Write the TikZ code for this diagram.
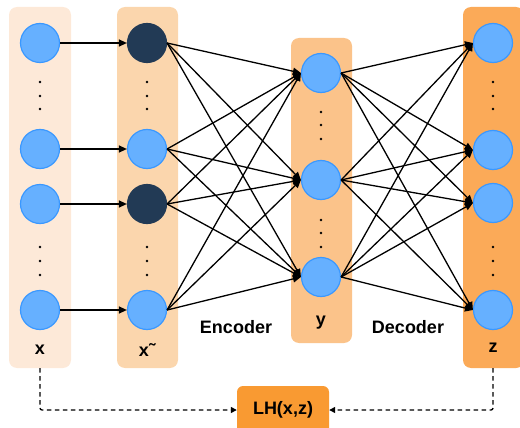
\documentclass[tikz,border=0pt]{standalone}
\usepackage{fontspec}
\setmainfont{Liberation Sans}
\usepackage{xcolor}
\usepackage{tikz}
\usetikzlibrary{arrows.meta,positioning}
\definecolor{InputPeach}{RGB}{253, 233, 216}
\definecolor{NoisyPeach}{RGB}{251, 214, 173}
\definecolor{CodeOrange}{RGB}{251, 195, 138}
\definecolor{OutputOrange}{RGB}{251, 170, 88}
\definecolor{LossOrange}{RGB}{249, 154, 50}
\definecolor{UnitBlue}{RGB}{102, 176, 255}
\definecolor{UnitEdge}{RGB}{58, 152, 255}
\definecolor{DropNavy}{RGB}{34, 58, 85}

\begin{document}
\begin{tikzpicture}[x=1pt, y=-1pt,
    unit/.style={circle, fill=UnitBlue, draw=UnitEdge, line width=1.2pt, minimum size=39pt, inner sep=0pt},
    dropped/.style={unit, fill=DropNavy, draw=DropNavy},
    lbl/.style={font=\fontsize{18}{20}\selectfont\bfseries},
    band/.style={rounded corners=8pt},
    link/.style={-{Triangle[length=8pt,width=7pt]}, line width=1.3pt},
    lossline/.style={dash pattern=on 4.5pt off 3.5pt, line width=1.3pt, -{Triangle[length=6pt,width=6pt]}, rounded corners=2pt}]
    \useasboundingbox (0,0) rectangle (520,428);
    \clip (0,0) rectangle (520,428);
    % layer bands
    \fill[InputPeach, band] (9,7) rectangle (71,368);
    \fill[NoisyPeach, band] (117,7) rectangle (178,368);
    \fill[CodeOrange, band] (291,38) rectangle (352,343);
    \fill[OutputOrange, band] (463,7) rectangle (524,368);
    % units
    \foreach \n/\yy in {1/43,2/149,3/204,4/310}
        \node[unit] (x\n) at (40,\yy) {};
    \foreach \n/\yy/\s in {1/43/dropped,2/149/unit,3/204/dropped,4/310/unit}
        \node[\s] (xt\n) at (147,\yy) {};
    \foreach \n/\yy in {1/73,2/180,3/277}
        \node[unit] (y\n) at (321,\yy) {};
    \foreach \n/\yy in {1/43,2/150,3/203,4/310}
        \node[unit] (z\n) at (493,\yy) {};
    % vertical dots
    \foreach \cx in {40,147,493}
        \foreach \dy in {82,96,109,247,261,275}
            \fill (\cx,\dy) circle (1.4pt);
    \foreach \dy in {112,125,139,220,233,247}
        \fill (321,\dy) circle (1.4pt);
    % connections
    \foreach \n in {1,...,4}
        \draw[link] (x\n.east) -- (xt\n.west);
    \foreach \i in {1,...,4}
        \foreach \j in {1,2,3}
            \draw[link] (xt\i.east) -- (y\j.west);
    \foreach \i in {1,2,3}
        \foreach \j in {1,...,4}
            \draw[link] (y\i.east) -- (z\j.west);
    % labels
    \node[lbl] (xlbl) at (40,350) {x};
    \node[lbl] (xtlbl) at (147,350) {x˜};
    \node[lbl] (enc) at (236,327) {Encoder};
    \node[lbl] (ylbl) at (321,323) {y};
    \node[lbl] (dec) at (408,327) {Decoder};
    \node[lbl] (zlbl) at (493,348) {z};
    % reconstruction loss
    \node[lbl, fill=LossOrange, rounded corners=6pt, minimum width=92pt, minimum height=48pt] (loss) at (283,410) {LH(x,z)};
    \coordinate (xfoot) at (40,368);
    \coordinate (zfoot) at (493,368);
    \draw[lossline] (xfoot) |- (loss.west);
    \draw[lossline] (zfoot) |- (loss.east);
\end{tikzpicture}
\end{document}
